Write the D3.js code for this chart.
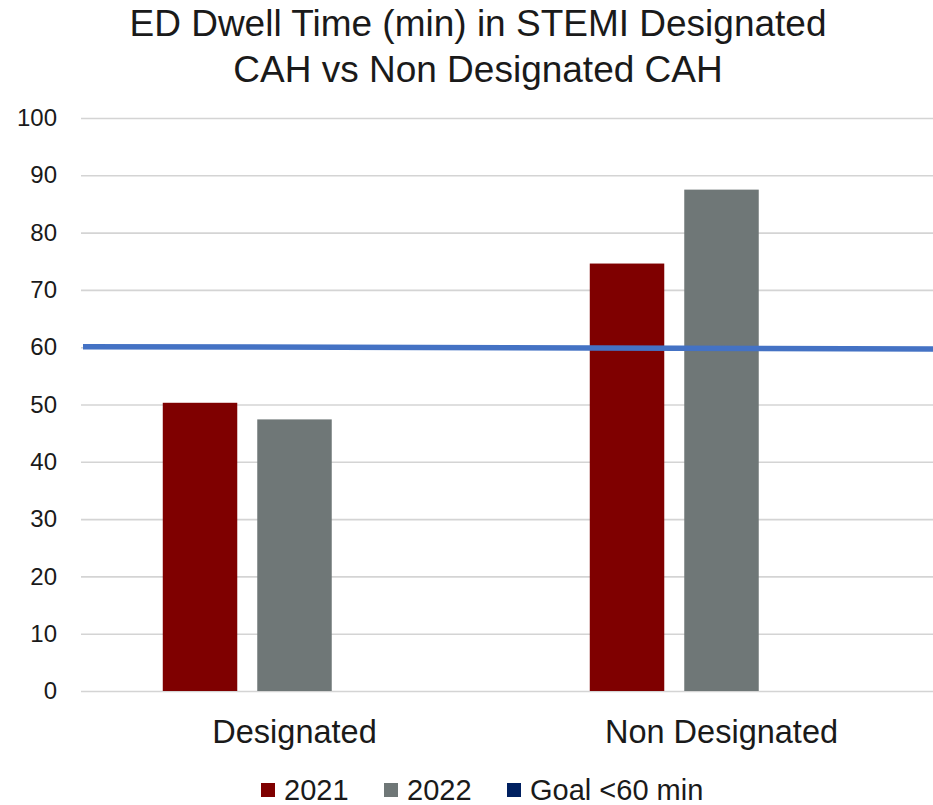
<!DOCTYPE html>
<html><head><meta charset="utf-8">
<script src="https://cdn.jsdelivr.net/npm/d3@7"></script>
<style>body{margin:0;background:#fff}svg{display:block}text{font-family:"Liberation Sans",Arial,sans-serif;fill:#1a1a1a}</style>
</head><body><svg id="c" width="933" height="805"></svg>
<script>
const categories = ["Designated", "Non Designated"];
const seriesNames = ["2021", "2022", "Goal <60 min"];
const values2021 = [50.3, 74.6];
const values2022 = [47.4, 87.5];
const goalValues = [60.1, 59.7];
const yTicks = [0,10,20,30,40,50,60,70,80,90,100];
const colors = ["#7f0000", "#6f7777", "#002060"];
const goalLineColor = "#4472c4";

const svg = d3.select("#c");
const L = 81, R = 935, T = 118, B = 691;
const y = d3.scaleLinear().domain([0,100]).range([B,T]);
const x0 = d3.scaleBand().domain(categories).range([L,R]).paddingInner(0.383).paddingOuter(0.1915);
const x1 = d3.scaleBand().domain(seriesNames).range([0,x0.bandwidth()]).paddingInner(0.2116);

// title
svg.append("text").attr("x",478).attr("y",36).attr("text-anchor","middle").style("font-size","37px").text("ED Dwell Time (min) in STEMI Designated");
svg.append("text").attr("x",478).attr("y",82).attr("text-anchor","middle").style("font-size","37px").text("CAH vs Non Designated CAH");

// grid
const yAxis = d3.axisLeft(y).tickValues(yTicks).tickSize(-(933-L)).tickPadding(24);
const g = svg.append("g").attr("transform",`translate(${L},0)`).call(yAxis);
g.select(".domain").remove();
g.selectAll(".tick line").attr("stroke","#d4d4d4").attr("stroke-width",1.6);
g.selectAll(".tick text").style("font-size","24px").attr("fill","#1a1a1a");

// bars
const rows = categories.map((c,i)=>({cat:c, vals:[values2021[i], values2022[i]]}));
rows.forEach(r=>{
  r.vals.forEach((v,j)=>{
    svg.append("rect")
      .attr("x", x0(r.cat)+x1(seriesNames[j]))
      .attr("width", x1.bandwidth())
      .attr("y", y(v)).attr("height", B - y(v))
      .attr("fill", colors[j]);
  });
});

// goal line
const xg = d3.scaleLinear().domain([0,goalValues.length-1]).range([L+2, 933]);
svg.append("path").datum(goalValues)
  .attr("d", d3.line().x((d,i)=>xg(i)).y(d=>y(d)))
  .attr("stroke", goalLineColor).attr("stroke-width",5.5).attr("fill","none");

// category labels
const xa = d3.axisBottom(x0).tickSize(0).tickPadding(29);
const gx = svg.append("g").attr("transform",`translate(0,${B})`).call(xa);
gx.select(".domain").remove();
gx.selectAll("text").style("font-size","32.5px").attr("fill","#1a1a1a");

// legend
const legX = [261, 384, 507];
seriesNames.forEach((s,i)=>{
  svg.append("rect").attr("x",legX[i]).attr("y",783).attr("width",14).attr("height",14).attr("fill",colors[i]);
  svg.append("text").attr("x",legX[i]+23).attr("y",800).style("font-size","29px").text(s);
});
</script></body></html>
